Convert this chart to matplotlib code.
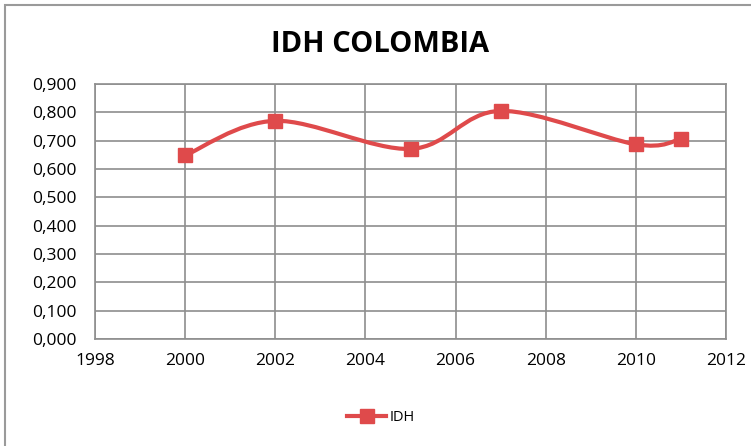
import numpy as np
import matplotlib.pyplot as plt
from matplotlib.path import Path
from matplotlib.patches import PathPatch, Rectangle
from matplotlib.lines import Line2D
from matplotlib.ticker import FuncFormatter, MultipleLocator

years = [2000, 2002, 2005, 2007, 2010, 2011]
idh = [0.648, 0.770, 0.671, 0.805, 0.687, 0.706]

red = "#DF4A4B"
grid = "#8E8E8E"

plt.rcParams["font.family"] = ["Open Sans", "DejaVu Sans"]

fig = plt.figure(figsize=(7.51, 4.46), dpi=100)
ax = fig.add_axes([95 / 751, 1 - 339 / 446, (726 - 95) / 751, (339 - 84) / 446])

# Excel style smoothed line (bezier through the points)
pts = np.column_stack([years, idh]).astype(float)
n = len(pts)
verts = [pts[0]]
codes = [Path.MOVETO]
for i in range(n - 1):
    p0 = pts[i - 1] if i > 0 else pts[i]
    p1 = pts[i]
    p2 = pts[i + 1]
    p3 = pts[i + 2] if i + 2 < n else pts[i + 1]
    verts += [p1 + (p2 - p0) / 6, p2 - (p3 - p1) / 6, p2]
    codes += [Path.CURVE4] * 3
ax.add_patch(PathPatch(Path(verts, codes), fill=False, edgecolor=red, lw=3.0,
                       capstyle="round", zorder=3))
ax.plot(years, idh, linestyle="none", marker="s", markersize=10.5,
        color=red, markeredgecolor=red, zorder=4)

ax.set_xlim(1998, 2012)
ax.set_ylim(0, 0.9)
ax.xaxis.set_major_locator(MultipleLocator(2))
ax.yaxis.set_major_locator(MultipleLocator(0.1))
ax.yaxis.set_major_formatter(FuncFormatter(lambda v, p: f"{v:.3f}".replace(".", ",")))
ax.grid(True, color=grid, lw=1.2)
ax.set_axisbelow(True)
for s in ax.spines.values():
    s.set_color(grid)
    s.set_linewidth(1.2)
ax.tick_params(length=0, labelsize=12.5, colors="black")
ax.tick_params(axis="y", pad=13)
ax.tick_params(axis="x", pad=10)

fig.text(0.506, 1 - 44 / 446, "IDH COLOMBIA", ha="center", va="center",
         fontsize=21, fontweight="bold")

handle = Line2D([], [], color=red, lw=3.0, marker="s", markersize=10.5)
fig.legend([handle], ["IDH"], loc="center", bbox_to_anchor=(0.507, 0.063),
           frameon=False, fontsize=10.5, handlelength=2.7, handletextpad=0.2)

fig.patches.append(Rectangle((4.5 / 751, -0.1), 1.2, 1.1 - 4.5 / 446, fill=False,
                             edgecolor="#9A9A9A", lw=1.5, transform=fig.transFigure))

fig.savefig("out.png", dpi=100)
